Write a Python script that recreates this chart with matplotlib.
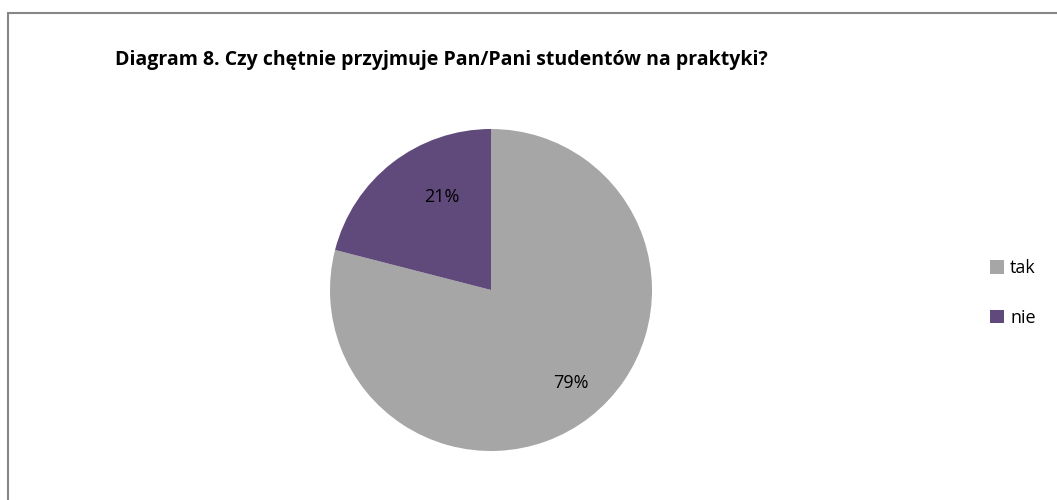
import numpy as np
import matplotlib.pyplot as plt
from matplotlib.patches import Rectangle

labels = ['tak', 'nie']
shares = [79, 21]
colors = ['#A6A6A6', '#604A7B']
title = 'Diagram 8. Czy chętnie przyjmuje Pan/Pani studentów na praktyki?'

W, H = 1057, 500
fig = plt.figure(figsize=(W / 100, H / 100), dpi=100)
plt.rcParams['font.family'] = ['Open Sans', 'DejaVu Sans']

# chart frame, runs off the right and bottom edge
fig.patches.append(Rectangle((8 / W, -0.1), 1.2, (H - 13) / H + 0.1,
                             transform=fig.transFigure, fill=False,
                             edgecolor='#868686', linewidth=1.5))

fig.text(441 / W, 1 - 60 / H, title, ha='center', va='center',
         fontsize=14, fontweight='bold')

r = 161
ax = fig.add_axes([(491 - r) / W, (H - 290 - r) / H, 2 * r / W, 2 * r / H])
wedges, texts, autotexts = ax.pie(shares, colors=colors, startangle=90,
                                  counterclock=False, autopct='%d%%',
                                  textprops={'fontsize': 13})
ax.set_xlim(-1, 1)
ax.set_ylim(-1, 1)
ax.set_aspect('equal')

# percent labels a bit off the mid-angle, like the best-fit placement
label_dist = [0.76, 0.65]
label_shift = [3.0, -10]
for w, t, d, s in zip(wedges, autotexts, label_dist, label_shift):
    a = np.deg2rad((w.theta1 + w.theta2) / 2 + s)
    t.set_position((d * np.cos(a), d * np.sin(a)))

fig.legend(wedges, labels, loc='center left',
           bbox_to_anchor=(974 / W, 1 - 293 / H), frameon=False,
           fontsize=13, handlelength=0.75, handleheight=0.75,
           handletextpad=0.35, labelspacing=1.75)

fig.savefig('out.png', dpi=100)
